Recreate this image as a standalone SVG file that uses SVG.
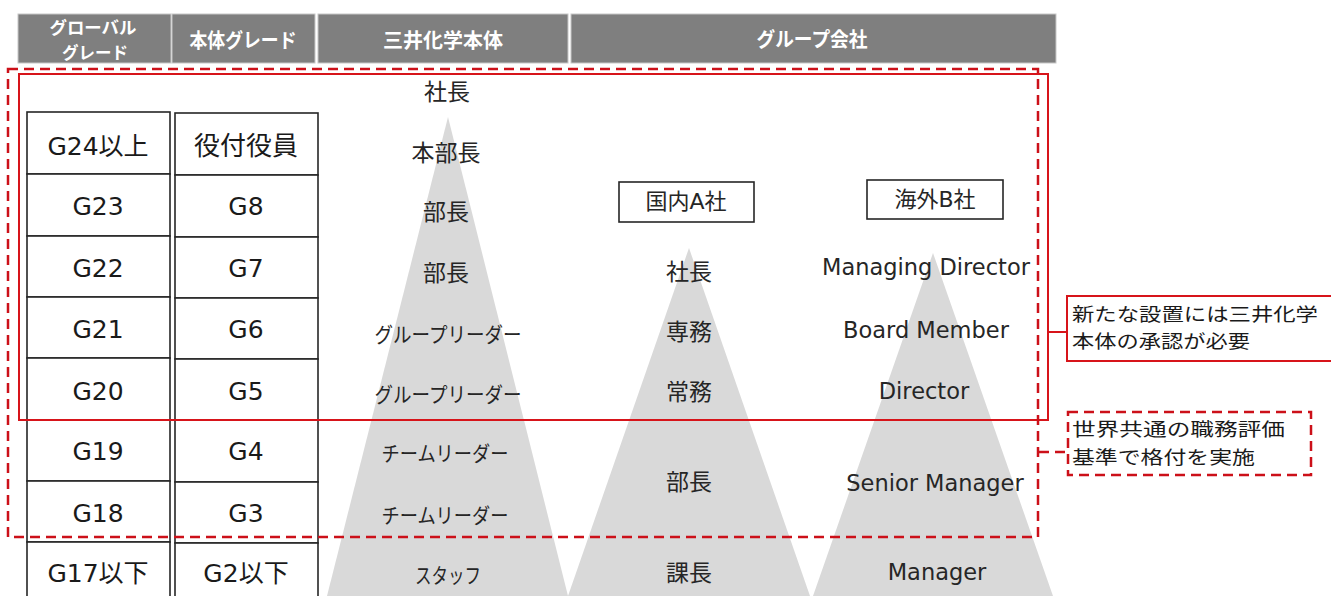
<svg xmlns="http://www.w3.org/2000/svg" width="1331" height="596" viewBox="0 0 1331 596">
<style>
.hdr{fill:#7f7f7f;stroke:#c8c8c8;stroke-width:1}
.ht{fill:#ffffff;font-family:'Noto Sans CJK JP',sans-serif;font-size:20px;font-weight:bold;text-anchor:middle}
.pyr{fill:#d9d9d9}
.cell{fill:#ffffff;stroke:#262626;stroke-width:1.6}
.tt{fill:#1a1a1a;font-family:'DejaVu Sans','Noto Sans CJK JP',sans-serif;font-size:25px;text-anchor:middle}
.jt{fill:#262626;font-family:'Noto Sans CJK JP',sans-serif;font-size:23px;text-anchor:middle}
.lt{fill:#262626;font-family:'DejaVu Sans','Noto Sans CJK JP',sans-serif;font-size:22.5px;text-anchor:middle}
.co{fill:#1a1a1a;font-family:'Noto Sans CJK JP',sans-serif;font-size:18.5px}
.box{fill:#ffffff;stroke:#262626;stroke-width:1.6}
.red{fill:none;stroke:#d7141a;stroke-width:2}
.reddash{fill:none;stroke:#cc1019;stroke-width:2.5;stroke-dasharray:10 6}
</style>

<g id="header">
<rect class="hdr" x="18" y="14" width="153" height="49"/>
<rect class="hdr" x="172" y="14" width="143" height="49"/>
<rect class="hdr" x="318" y="14" width="250" height="49"/>
<rect class="hdr" x="571" y="14" width="485" height="49"/>
<text class="ht" x="93" y="34" style="font-size:17px" textLength="87" lengthAdjust="spacingAndGlyphs">グローバル</text>
<text class="ht" x="95" y="59" style="font-size:17px" textLength="66" lengthAdjust="spacingAndGlyphs">グレード</text>
<text class="ht" x="243" y="48" textLength="107" lengthAdjust="spacingAndGlyphs">本体グレード</text>
<text class="ht" x="443" y="48">三井化学本体</text>
<text class="ht" x="812" y="47" textLength="111" lengthAdjust="spacingAndGlyphs">グループ会社</text>
</g>

<g id="pyramids">
<polygon class="pyr" points="448,117 568,596 327,596"/>
<polygon class="pyr" points="689,248 810,596 568,596"/>
<polygon class="pyr" points="933,253 1053,596 813,596"/>
</g>

<g id="global-grade">
<rect class="cell" x="27" y="112" width="143" height="62"/>
<rect class="cell" x="27" y="174" width="143" height="62"/>
<rect class="cell" x="27" y="236" width="143" height="61"/>
<rect class="cell" x="27" y="297" width="143" height="61"/>
<rect class="cell" x="27" y="358" width="143" height="62"/>
<rect class="cell" x="27" y="420" width="143" height="61"/>
<rect class="cell" x="27" y="481" width="143" height="61"/>
<rect class="cell" x="27" y="542" width="143" height="62"/>
<text class="tt" x="98" y="155">G24以上</text>
<text class="tt" x="98" y="215">G23</text>
<text class="tt" x="98" y="277">G22</text>
<text class="tt" x="98" y="338">G21</text>
<text class="tt" x="98" y="400">G20</text>
<text class="tt" x="98" y="460">G19</text>
<text class="tt" x="98" y="522">G18</text>
<text class="tt" x="98" y="582">G17以下</text>
</g>

<g id="body-grade">
<rect class="cell" x="175" y="113" width="143" height="62"/>
<rect class="cell" x="175" y="175" width="143" height="62"/>
<rect class="cell" x="175" y="237" width="143" height="61"/>
<rect class="cell" x="175" y="298" width="143" height="61"/>
<rect class="cell" x="175" y="359" width="143" height="61"/>
<rect class="cell" x="175" y="420" width="143" height="62"/>
<rect class="cell" x="175" y="482" width="143" height="61"/>
<rect class="cell" x="175" y="543" width="143" height="62"/>
<text class="tt" x="246" y="155" style="font-size:26px">役付役員</text>
<text class="tt" x="246" y="215">G8</text>
<text class="tt" x="246" y="277">G7</text>
<text class="tt" x="246" y="338">G6</text>
<text class="tt" x="246" y="400">G5</text>
<text class="tt" x="246" y="460">G4</text>
<text class="tt" x="246" y="522">G3</text>
<text class="tt" x="246" y="582">G2以下</text>
</g>

<g id="mitsui-roles">
<text class="jt" x="447" y="100">社長</text>
<text class="jt" x="446" y="161">本部長</text>
<text class="jt" x="446" y="220">部長</text>
<text class="jt" x="446" y="281">部長</text>
<text class="jt" x="448" y="342" style="font-size:21px" textLength="147" lengthAdjust="spacingAndGlyphs">グループリーダー</text>
<text class="jt" x="448" y="402" style="font-size:21px" textLength="147" lengthAdjust="spacingAndGlyphs">グループリーダー</text>
<text class="jt" x="445" y="461" style="font-size:21px" textLength="127" lengthAdjust="spacingAndGlyphs">チームリーダー</text>
<text class="jt" x="445" y="523" style="font-size:21px" textLength="127" lengthAdjust="spacingAndGlyphs">チームリーダー</text>
<text class="jt" x="448" y="583" style="font-size:21px" textLength="66" lengthAdjust="spacingAndGlyphs">スタッフ</text>
</g>

<g id="company-a">
<rect class="box" x="619" y="182" width="135" height="40"/>
<text class="lt" x="686" y="209" style="font-size:22px">国内A社</text>
<text class="jt" x="689" y="280">社長</text>
<text class="jt" x="689" y="340">専務</text>
<text class="jt" x="689" y="400">常務</text>
<text class="jt" x="689" y="490">部長</text>
<text class="jt" x="689" y="581">課長</text>
</g>

<g id="company-b">
<rect class="box" x="867" y="180" width="136" height="39"/>
<text class="lt" x="935" y="207" style="font-size:22px">海外B社</text>
<text class="lt" x="926" y="275">Managing Director</text>
<text class="lt" x="926" y="338">Board Member</text>
<text class="lt" x="924" y="399">Director</text>
<text class="lt" x="935" y="491">Senior Manager</text>
<text class="lt" x="937" y="580">Manager</text>
</g>

<g id="approval-area">
<rect class="red" x="19" y="74" width="1029" height="346"/>
</g>

<g id="evaluation-area">
<rect class="reddash" x="8" y="69" width="1030" height="468"/>
</g>

<g id="connectors">
<line class="red" x1="1048" y1="332" x2="1067" y2="332"/>
<line class="reddash" x1="1039" y1="452" x2="1068" y2="452"/>
</g>

<g id="callout-approval">
<rect class="red" x="1067" y="296" width="280" height="65" style="fill:#ffffff"/>
<text class="co" x="1072" y="321" textLength="246" lengthAdjust="spacingAndGlyphs">新たな設置には三井化学</text>
<text class="co" x="1072" y="348" textLength="178" lengthAdjust="spacingAndGlyphs">本体の承認が必要</text>
</g>

<g id="callout-evaluation">
<rect class="reddash" x="1068" y="412" width="243" height="63" style="fill:#ffffff"/>
<text class="co" x="1072" y="436" textLength="213" lengthAdjust="spacingAndGlyphs">世界共通の職務評価</text>
<text class="co" x="1072" y="464" textLength="183" lengthAdjust="spacingAndGlyphs">基準で格付を実施</text>
</g>
</svg>
